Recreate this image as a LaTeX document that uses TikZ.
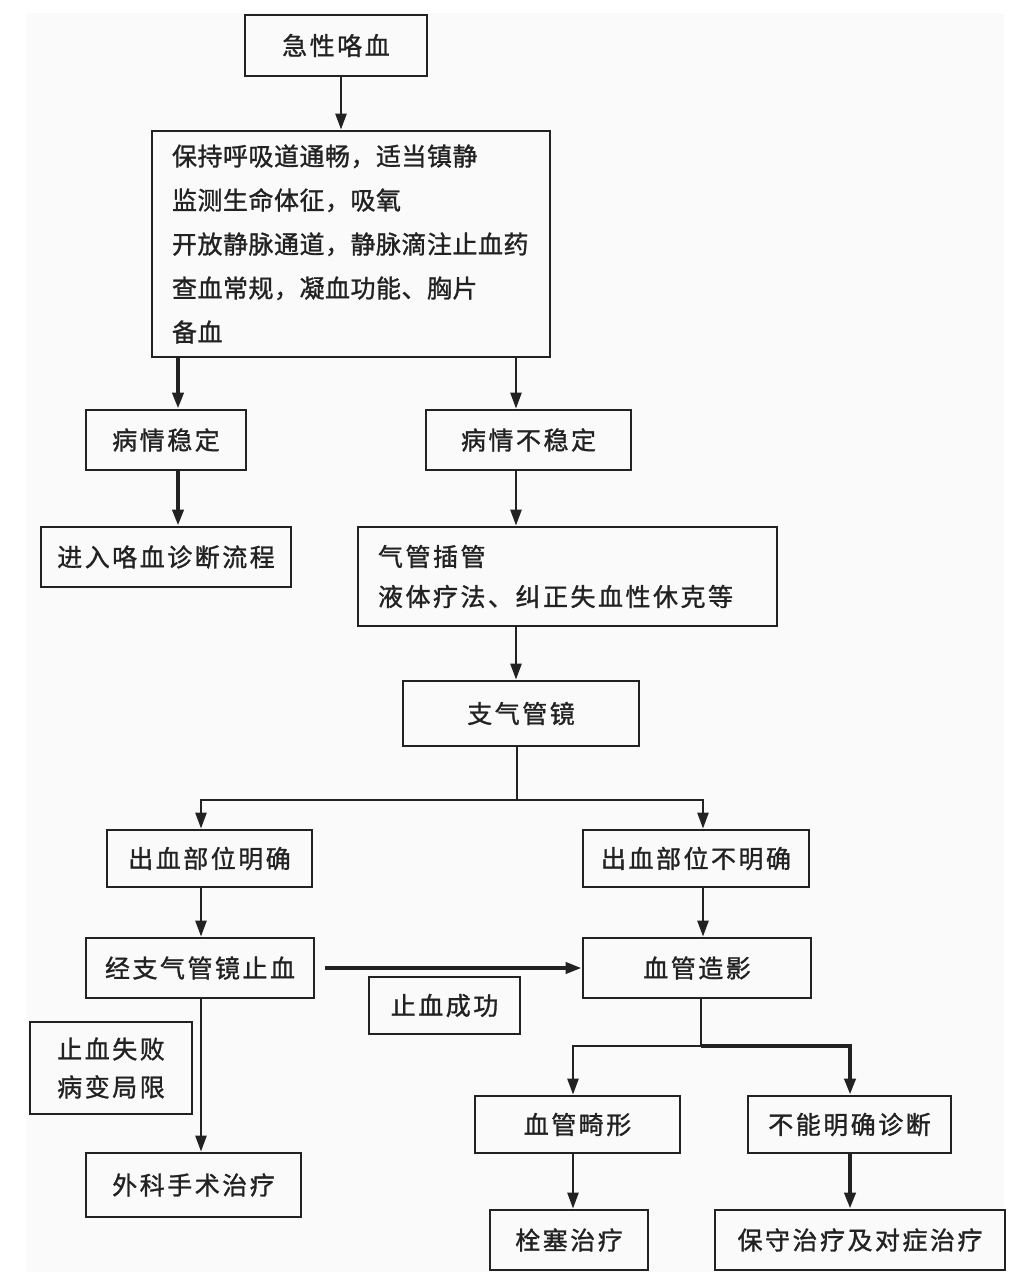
\documentclass[tikz,border=0pt]{standalone}
\usepackage{fontspec}
\setmainfont{Noto Sans CJK SC}
\newfontfamily\cjkA[LetterSpace=2,FakeBold=1.2]{Noto Sans CJK SC}
\newfontfamily\cjkB[LetterSpace=10,FakeBold=1.2]{Noto Sans CJK SC}
\usetikzlibrary{arrows.meta}
\definecolor{ink}{HTML}{222222}
\begin{document}
\begin{tikzpicture}[x=1pt,y=-1pt,
  box/.style={draw=ink, line width=2.8pt, inner sep=0pt, text=ink,
    font=\cjkB\fontsize{25}{30}\selectfont},
  wire/.style={draw=ink, line width=2.5pt},
  arr/.style={wire, -{Triangle[length=16pt,width=11pt]}},
  arrthick/.style={draw=ink, line width=3.8pt, -{Triangle[length=16pt,width=11pt]}}]
\useasboundingbox (0,0) rectangle (1009,1276);
\fill[white] (0,0) rectangle (1009,1276);
\fill[gray!4] (27,13) rectangle (1004,1272);

% nodes
\node[box, minimum width=182pt, minimum height=61pt] (n1) at (336,45.5) {急性咯血};
\node[box, minimum width=398pt, minimum height=226pt, text width=358pt, align=left,
  font=\cjkA\fontsize{25}{44}\selectfont] (n2) at (351,244)
  {保持呼吸道通畅，适当镇静\\监测生命体征，吸氧\\开放静脉通道，静脉滴注止血药\\查血常规，凝血功能、胸片\\备血};
\node[box, minimum width=160pt, minimum height=60pt] (n3) at (166,440) {病情稳定};
\node[box, minimum width=205pt, minimum height=60pt] (n4) at (528.5,440) {病情不稳定};
\node[box, minimum width=250pt, minimum height=60pt] (n5) at (166,557) {进入咯血诊断流程};
\node[box, minimum width=419pt, minimum height=99pt, text width=379pt, align=left,
  font=\cjkB\fontsize{25}{40}\selectfont] (n6) at (567.5,576.5)
  {气管插管\\液体疗法、纠正失血性休克等};
\node[box, minimum width=236pt, minimum height=65pt] (n7) at (521,713.5) {支气管镜};
\node[box, minimum width=205pt, minimum height=57pt] (n8) at (209.5,858.5) {出血部位明确};
\node[box, minimum width=226pt, minimum height=57pt] (n9) at (696,858.5) {出血部位不明确};
\node[box, minimum width=228pt, minimum height=60pt] (n10) at (200,968) {经支气管镜止血};
\node[box, minimum width=228pt, minimum height=60pt] (n11) at (697,968) {血管造影};
\node[box, minimum width=151pt, minimum height=57pt] (n12) at (444.5,1005.5) {止血成功};
\node[box, minimum width=162pt, minimum height=92pt, align=center,
  font=\cjkB\fontsize{25}{38}\selectfont] (n13) at (111,1068) {止血失败\\病变局限};
\node[box, minimum width=205pt, minimum height=57pt] (n14) at (577.5,1124.5) {血管畸形};
\node[box, minimum width=203pt, minimum height=57pt] (n15) at (849.5,1124.5) {不能明确诊断};
\node[box, minimum width=215pt, minimum height=64pt] (n16) at (193.5,1185) {外科手术治疗};
\node[box, minimum width=158pt, minimum height=60pt] (n17) at (569,1240) {栓塞治疗};
\node[box, minimum width=290pt, minimum height=60pt] (n18) at (860,1240) {保守治疗及对症治疗};

% helper coordinates
\coordinate (x341) at (341,0);
\coordinate (x178) at (178,0);
\coordinate (x516) at (516,0);
\coordinate (x201) at (201,0);
\coordinate (x703) at (703,0);
\coordinate (x573) at (573,0);
\coordinate (x850) at (850,0);
\coordinate (b1) at (517,800);
\coordinate (b2) at (701,1046);

% connectors
\draw[arr] (n1.south -| x341) -- (n2.north -| x341);
\draw[arrthick] (n2.south -| x178) -- (n3.north -| x178);
\draw[arr] (n2.south -| x516) -- (n4.north -| x516);
\draw[arrthick] (n3.south -| x178) -- (n5.north -| x178);
\draw[arr] (n4.south -| x516) -- (n6.north -| x516);
\draw[arr] (n6.south -| x516) -- (n7.north -| x516);
\draw[wire] (n7.south -| b1) -- (b1);
\draw[arr] (b1) -| (n8.north -| x201);
\draw[arr] (b1) -| (n9.north -| x703);
\draw[arr] (n8.south -| x201) -- (n10.north -| x201);
\draw[arr] (n9.south -| x703) -- (n11.north -| x703);
\draw[arrthick, shorten <=10pt] (n10) -- (n11);
\draw[arr] (n10.south -| x201) -- (n16.north -| x201);
\draw[wire] (n11.south -| b2) -- (b2);
\draw[arr] (b2) -| (n14.north -| x573);
\draw[arrthick] (b2) -| (n15.north -| x850);
\draw[arr] (n14.south -| x573) -- (n17.north -| x573);
\draw[arrthick] (n15.south -| x850) -- (n18.north -| x850);
\end{tikzpicture}
\end{document}
